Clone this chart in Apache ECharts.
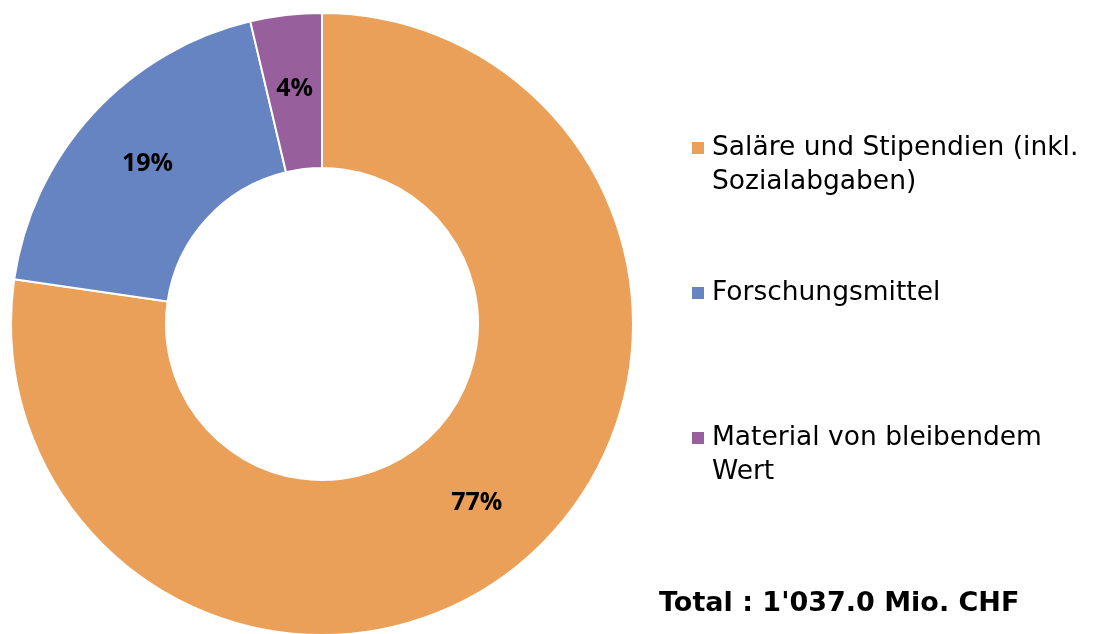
<!DOCTYPE html>
<html>
<head>
<meta charset="utf-8">
<title>Ausgaben</title>
<script src="https://cdn.jsdelivr.net/npm/echarts@6/dist/echarts.min.js"></script>
<style>
  html, body { margin: 0; padding: 0; background: #fff; }
  #chart { width: 1094px; height: 634px; }
</style>
</head>
<body>
<div id="chart"></div>
<script>
// Kategorien und Werte (Mio. CHF, geschätzt aus den Winkeln)
const categories = ['Saläre und Stipendien (inkl. Sozialabgaben)', 'Forschungsmittel', 'Material von bleibendem Wert']
const legendLabels = ['Saläre und Stipendien (inkl.\nSozialabgaben)', 'Forschungsmittel', 'Material von bleibendem\nWert']
const values = [801.6, 197.0, 38.4]
const colors = ['#EAA058', '#6784C2', '#97609D']
const totalText = "Total : 1'037.0 Mio. CHF"

const chart = echarts.init(document.getElementById('chart'))

const pieData = categories.map((name, i) => ({
  name: name,
  value: values[i],
  itemStyle: { color: colors[i] }
}))

// zweizeilige Texte: leere Zeile davor, damit das Symbol auf Höhe der ersten Zeile steht
const legendText = name => {
  const label = legendLabels[categories.indexOf(name)]
  return label.indexOf('\n') >= 0 ? ' \n' + label : label
}

const option = {
  animation: false,
  title: {
    text: totalText,
    left: 659,
    top: 590,
    padding: 0,
    textStyle: {
      fontFamily: 'DejaVu Sans',
      fontSize: 27,
      fontWeight: 'bold',
      color: '#000'
    }
  },
  legend: {
    orient: 'vertical',
    left: 690,
    top: 97,
    padding: 0,
    itemGap: 77,
    itemWidth: 14,
    itemHeight: 14,
    icon: 'rect',
    data: categories,
    formatter: legendText,
    textStyle: {
      fontFamily: 'DejaVu Sans',
      fontSize: 26.5,
      lineHeight: 34,
      padding: [0, 0, 0, 2],
      color: '#000'
    }
  },
  series: [
    {
      type: 'pie',
      center: [322, 324],
      radius: [156, 311],
      startAngle: 90,
      clockwise: true,
      percentPrecision: 0,
      itemStyle: {
        borderColor: '#fff',
        borderWidth: 2
      },
      label: {
        show: true,
        position: 'inside',
        formatter: '{d}%',
        fontFamily: 'Open Sans',
        fontSize: 25,
        fontWeight: 'bold',
        color: '#000'
      },
      labelLine: { show: false },
      emphasis: { disabled: true },
      data: pieData
    }
  ]
}

chart.setOption(option)
</script>
</body>
</html>
